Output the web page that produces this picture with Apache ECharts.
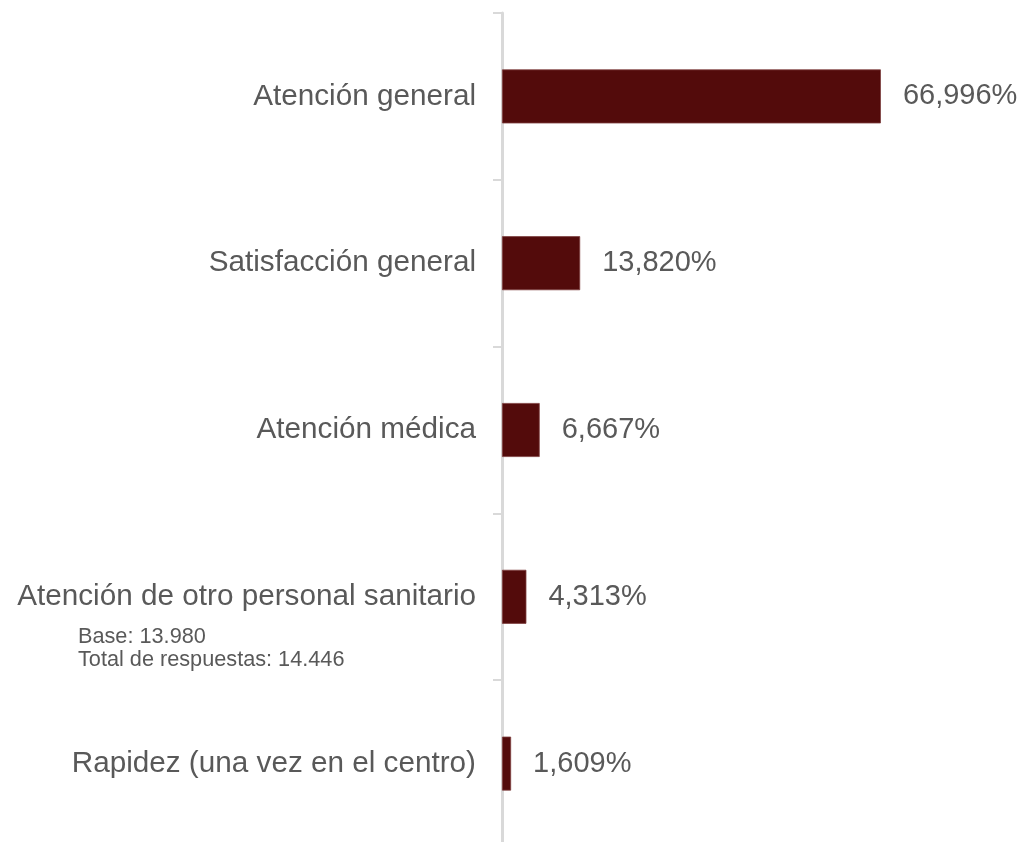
<!DOCTYPE html>
<html>
<head>
<meta charset="utf-8">
<script src="https://cdn.jsdelivr.net/npm/echarts@6/dist/echarts.min.js"></script>
<style>
html,body{margin:0;padding:0;background:#fff;}
#chart{width:1025px;height:842px;}
</style>
</head>
<body>
<div id="chart"></div>
<script>
var categories = [
  'Atención general',
  'Satisfacción general',
  'Atención médica',
  'Atención de otro personal sanitario',
  'Rapidez (una vez en el centro)'
];
var values = [66.996, 13.820, 6.667, 4.313, 1.609];
var noteLines = ['Base: 13.980', 'Total de respuestas: 14.446'];

var FONT = "'Liberation Sans', Arial, sans-serif";
var TEXT = '#595959';

var chart = echarts.init(document.getElementById('chart'));
chart.setOption({
  animation: false,
  backgroundColor: '#ffffff',
  grid: { left: 502, top: 13, width: 509, height: 834, containLabel: false, outerBoundsMode: 'none' },
  xAxis: {
    type: 'value', min: 0, max: 90, show: false
  },
  yAxis: {
    type: 'category',
    data: categories,
    inverse: true,
    axisLine: { show: true, lineStyle: { color: '#d9d9d9', width: 3 } },
    axisTick: { show: true, length: 9, lineStyle: { color: '#d9d9d9', width: 2 } },
    axisLabel: { color: TEXT, fontSize: 29.7, fontFamily: FONT, margin: 26 },
    splitLine: { show: false }
  },
  series: [{
    type: 'bar',
    data: values,
    barWidth: 54,
    itemStyle: { color: '#530b0b', borderColor: '#7d3f3f', borderWidth: 0.8 },
    label: {
      show: true,
      position: 'right',
      distance: 22,
      color: TEXT,
      fontSize: 29,
      fontFamily: FONT,
      formatter: function (p) { return p.value.toFixed(3).replace('.', ',') + '%'; }
    }
  }],
  graphic: [{
    type: 'text',
    left: 78,
    top: 626,
    style: {
      text: noteLines.join('\n'),
      fill: TEXT,
      font: '21.7px ' + FONT,
      lineHeight: 23
    }
  }]
});
</script>
</body>
</html>
